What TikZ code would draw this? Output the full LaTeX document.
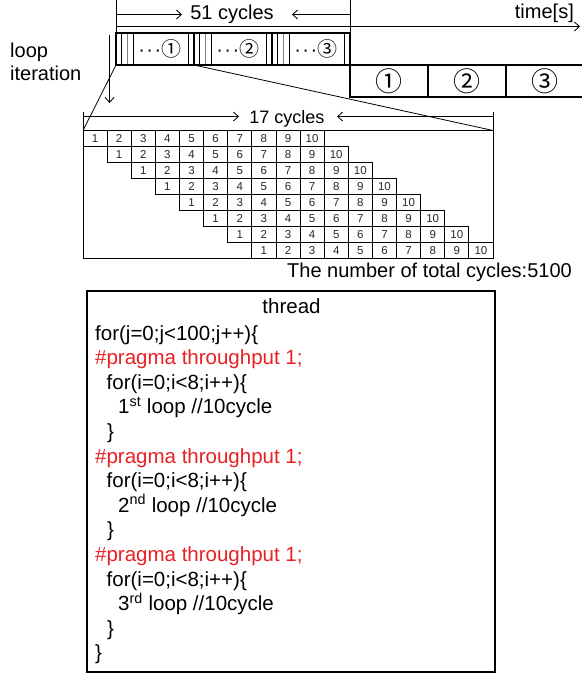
\documentclass[tikz,border=0pt]{standalone}
\usepackage{fontspec}
\setmainfont{Liberation Sans}
\newfontfamily\cjk{Noto Sans CJK JP}
\usetikzlibrary{arrows.meta}
\definecolor{pragred}{RGB}{232,32,36}
\definecolor{numgray}{RGB}{40,40,40}
\newcommand{\smallcirc}[1]{{\cjk\fontsize{20}{20}\selectfont #1}}
\tikzset{
  thin line/.style={line width=0.8pt},
  thick line/.style={line width=2.4pt},
  gray line/.style={line width=0.8pt, draw=gray},
  dimarrow/.style={line width=0.8pt, -{Straight Barb[length=5pt,width=9pt]}},
  lbl/.style={inner sep=0pt, font=\fontsize{20}{24}\selectfont},
  smlbl/.style={inner sep=0pt, font=\fontsize{18}{22}\selectfont},
  circ/.style={inner sep=0pt, font=\cjk\fontsize{27}{28}\selectfont},
  codeline/.style={inner sep=0pt, anchor=base west, font=\fontsize{20.5}{24}\selectfont},
  cellnum/.style={inner sep=0pt, text=numgray, font=\fontsize{11.5}{12}\selectfont},
}
\begin{document}
\begin{tikzpicture}[x=1pt,y=-1pt]
\useasboundingbox (0,0) rectangle (582,676);

% ---- top: time axis and 51 cycles ----
\coordinate (vL0) at (116,0);
\coordinate (vL1) at (116,33);
\coordinate (vR0) at (350,0);
\coordinate (vR1) at (350,97);
\draw[thin line] (vL0) -- (vL1);
\draw[thin line] (vR0) -- (vR1);
\coordinate (ax0) at (116,26.5);
\coordinate (ax1) at (580,26.5);
\draw[dimarrow] (ax0) -- (ax1);
\node[lbl, anchor=base] (c51) at (232,20) {51 cycles};
\coordinate (a51l) at (116,14.5);
\coordinate (a51r) at (350,14.5);
\draw[dimarrow] (a51l) -- (182,14.5);
\draw[dimarrow] (a51r) -- (292,14.5);
\node[lbl, anchor=base east] (time) at (574,19) {time[s]};

% ---- loop iteration ----
\node[lbl, anchor=base west] (loop) at (10,58) {loop};
\node[lbl, anchor=base west] (iter) at (10,81) {iteration};
\coordinate (li0) at (109.5,35);
\coordinate (li1) at (109.5,103);
\draw[dimarrow] (li0) -- (li1);

% ---- top blocks ----
\foreach \s/\k in {116/1,194/2,272/3}{
  \draw[thin line] (\s+5.5,33) -- (\s+5.5,65);
  \draw[gray line] (\s+11,33) -- (\s+11,65);
  \draw[thin line] (\s+17,33) -- (\s+17,65);
  \draw[thin line] (\s+72,33) -- (\s+72,65);
}
\node[lbl] (b1) at (160,49) {·\kern1.5pt·\kern1.5pt·\kern0.5pt\smallcirc{①}};
\node[lbl] (b2) at (238,49) {·\kern1.5pt·\kern1.5pt·\kern0.5pt\smallcirc{②}};
\node[lbl] (b3) at (316,49) {·\kern1.5pt·\kern1.5pt·\kern0.5pt\smallcirc{③}};
\draw[thick line] (116,33) rectangle (350,65);
\draw[thick line] (194,33) -- (194,65);
\draw[thick line] (272,33) -- (272,65);

% ---- lower timeline blocks ----
\draw[thick line] (582,65) -- (350,65) -- (350,97) -- (582,97);
\draw[line width=1.8pt] (428,65) -- (428,97);
\draw[line width=1.8pt] (506,65) -- (506,97);
\node[circ] (t1) at (389,81) {①};
\node[circ] (t2) at (467,81) {②};
\node[circ] (t3) at (545,81) {③};

% ---- zoom lines ----
\coordinate (zA) at (116,65);
\coordinate (zB) at (194,65);
\coordinate (tl) at (83,130.5);
\coordinate (tr) at (493,130.5);
\draw[thin line] (zA) -- (tl);
\draw[thin line] (zB) -- (tr);

% ---- table ----
\def\xo{83}\def\cw{24.1176}\def\yo{130.5}\def\rh{16}
\draw[thin line] (83,112) -- (83,258.5) -- (493,258.5) -- (493,112);
\draw[thin line] (tl) -- (tr);
\coordinate (a17l) at (83,116.5);
\coordinate (a17r) at (493,116.5);
\draw[dimarrow] (a17l) -- (239,116.5);
\draw[dimarrow] (a17r) -- (337,116.5);
\node[smlbl, anchor=base] (c17) at (287,124) {17 cycles};
\foreach \r in {0,...,7}{
  \foreach \k in {1,...,10}{
    \pgfmathsetmacro{\cx}{\xo+(\r+\k-1)*\cw}
    \pgfmathsetmacro{\cy}{\yo+\r*\rh}
    \draw[thin line] (\cx,\cy) rectangle (\cx+\cw,\cy+\rh);
    \node[cellnum] (cell-\r-\k) at (\cx+\cw/2,\cy+\rh/2) {\k};
  }
}
\node[lbl, anchor=base east] (total) at (572,277.5) {The number of total cycles:5100};

% ---- code box ----
\draw[line width=1.2pt] (87,291) rectangle (495,672);
\node[codeline, anchor=base] (thr) at (291.5,313.5) {thread};
\node[codeline] (l1) at (95,340) {for(j=0;j<100;j++)\{};
\node[codeline, text=pragred] (l2) at (95,364.6) {\#pragma throughput 1;};
\node[codeline] (l3) at (106.5,389.2) {for(i=0;i<8;i++)\{};
\node[codeline] (l4) at (118,413.8) {1\textsuperscript{st} loop //10cycle};
\node[codeline] (l5) at (107,438.4) {\}};
\node[codeline, text=pragred] (l6) at (95,463) {\#pragma throughput 1;};
\node[codeline] (l7) at (106.5,487.6) {for(i=0;i<8;i++)\{};
\node[codeline] (l8) at (118,512.2) {2\textsuperscript{nd} loop //10cycle};
\node[codeline] (l9) at (107,536.8) {\}};
\node[codeline, text=pragred] (l10) at (95,561.4) {\#pragma throughput 1;};
\node[codeline] (l11) at (106.5,586) {for(i=0;i<8;i++)\{};
\node[codeline] (l12) at (118,610.6) {3\textsuperscript{rd} loop //10cycle};
\node[codeline] (l13) at (107,635.2) {\}};
\node[codeline] (l14) at (95,659.8) {\}};
\end{tikzpicture}
\end{document}
